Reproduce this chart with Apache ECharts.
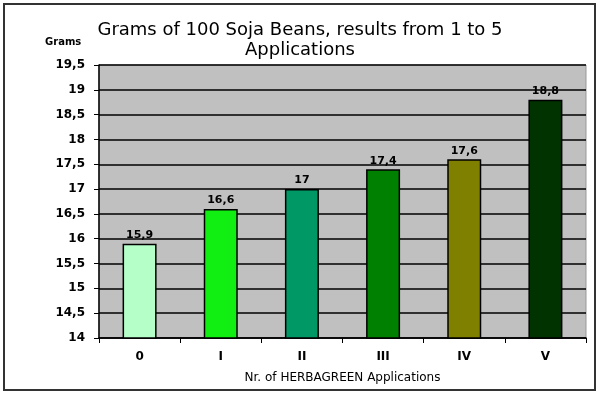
<!DOCTYPE html>
<html>
<head>
<meta charset="utf-8">
<script src="https://cdn.jsdelivr.net/npm/echarts@6/dist/echarts.min.js"></script>
<style>
  html, body { margin: 0; padding: 0; background: #fff; }
  #chart { width: 600px; height: 398px; }
</style>
</head>
<body>
<div id="chart"></div>
<script>
var categories = ["0", "I", "II", "III", "IV", "V"];
var grams = [15.9, 16.6, 17, 17.4, 17.6, 18.8];
var barColors = ["#b5ffc8", "#11ee11", "#009966", "#008000", "#808000", "#003300"];

function comma(v) {
  return String(v).replace(".", ",");
}

var myChart = echarts.init(document.getElementById("chart"));

var option = {
  backgroundColor: "#fff",
  animation: false,
  title: {
    text: "Grams of 100 Soja Beans, results from 1 to 5\nApplications",
    left: "center",
    top: 15,
    textStyle: {
      fontFamily: "DejaVu Sans",
      fontWeight: "normal",
      fontSize: 18,
      lineHeight: 20,
      color: "#000"
    }
  },
  graphic: [
    {
      type: "rect",
      shape: { x: 4, y: 4, width: 591, height: 386 },
      style: { fill: "none", stroke: "#333", lineWidth: 2 },
      z: -1
    },
    {
      type: "text",
      left: 45,
      top: 37,
      style: { text: "Grams", font: "bold 10px DejaVu Sans", fill: "#000" }
    }
  ],
  grid: {
    left: 99,
    right: 14,
    top: 65,
    bottom: 60,
    show: true,
    backgroundColor: "#c0c0c0",
    borderColor: "#999",
    borderWidth: 1
  },
  xAxis: {
    type: "category",
    data: categories,
    name: "Nr. of HERBAGREEN Applications",
    nameLocation: "middle",
    nameGap: 34,
    nameTextStyle: { fontFamily: "DejaVu Sans", fontSize: 12, color: "#000" },
    axisLine: { lineStyle: { color: "#000", width: 1.5 } },
    axisTick: { show: true, length: 5, lineStyle: { color: "#000" } },
    axisLabel: {
      margin: 13,
      fontFamily: "DejaVu Sans",
      fontWeight: "bold",
      fontSize: 12,
      color: "#000"
    }
  },
  yAxis: {
    type: "value",
    min: 14,
    max: 19.5,
    interval: 0.5,
    axisLine: { show: true, lineStyle: { color: "#000", width: 1.5 } },
    axisTick: { show: true, length: 5, lineStyle: { color: "#000" } },
    splitLine: { lineStyle: { color: "#000", width: 1.5 } },
    axisLabel: {
      margin: 14,
      fontFamily: "DejaVu Sans",
      fontWeight: "bold",
      fontSize: 12,
      color: "#000",
      formatter: comma
    }
  },
  series: [
    {
      type: "bar",
      barWidth: 34,
      data: grams.map(function (v, i) {
        return { value: v, itemStyle: { color: barColors[i] } };
      }),
      itemStyle: { borderColor: "#000", borderWidth: 1.5 },
      label: {
        show: true,
        position: "top",
        distance: 3,
        fontFamily: "DejaVu Sans",
        fontWeight: "bold",
        fontSize: 11,
        color: "#000",
        formatter: function (p) { return comma(p.value); }
      }
    }
  ]
};

myChart.setOption(option);
</script>
</body>
</html>
